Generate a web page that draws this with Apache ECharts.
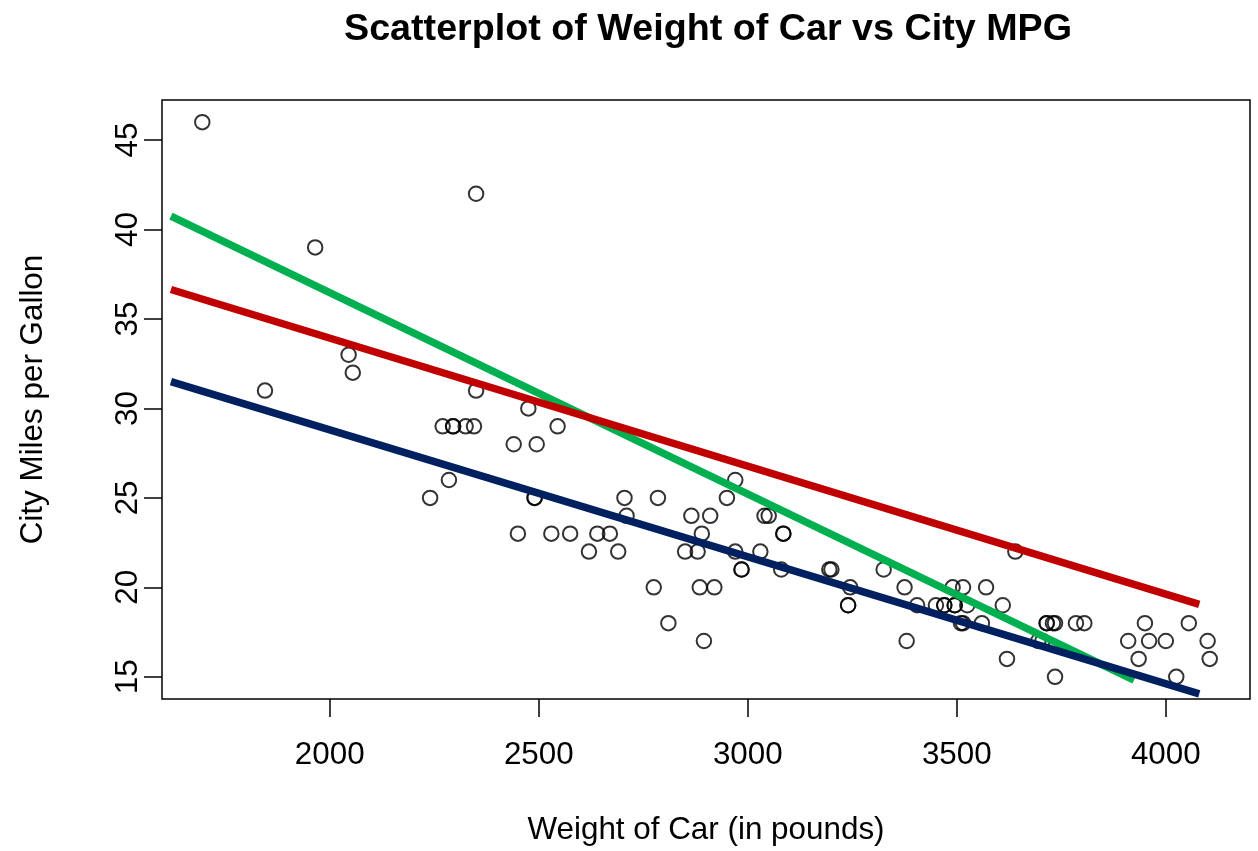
<!DOCTYPE html>
<html><head><meta charset="utf-8">
<script src="https://cdn.jsdelivr.net/npm/echarts@6/dist/echarts.min.js"></script>
<style>html,body{margin:0;padding:0;background:#fff}#c{width:1258px;height:851px}</style>
</head><body><div id="c"></div>
<script>
// Car weight (pounds) and city MPG
const weight = [2705,3560,3375,3405,3640,2880,3470,4105,3495,3620,3935,2490,2785,3240,3195,3715,4025,3910,3380,3515,
  3085,3570,2270,2670,2970,3705,3080,3805,2295,3490,1845,2530,2690,2850,2710,3735,3325,3950,1695,2475,
  2865,2350,3040,2345,2620,2285,2885,4000,3510,3515,3695,4055,2325,2440,2970,3735,2895,2920,3525,2450,
  3610,2295,3730,2545,3050,4100,3200,2910,2890,3715,3470,2640,2350,2575,3240,3450,3495,2775,2495,2045,
  2490,3085,1965,2055,2950,3030,3785,2240,3960,2985,2810,2985,3245];
const mpgCity = [25,18,20,19,22,22,19,16,19,16,16,25,25,19,21,18,15,17,17,20,
  23,20,29,23,22,17,21,18,29,20,31,23,22,22,24,15,21,18,46,30,
  24,42,24,29,22,26,20,17,18,18,17,18,29,28,26,18,17,20,19,23,
  19,29,18,29,24,17,21,24,23,18,19,23,31,23,19,19,19,20,28,33,
  25,23,39,32,25,22,18,25,17,21,18,21,20];
const xTicks = [2000, 2500, 3000, 3500, 4000];
const yTicks = [15, 20, 25, 30, 35, 40, 45];
// fitted lines (endpoints)
const lineX = [1620, 4080];
const redLine = [36.65, 19.05];
const navyLine = [31.5, 14.05];
const greenX = [1620, 3924];
const greenLine = [40.75, 14.82];

const FONT = "'Liberation Sans', Arial, Helvetica, sans-serif";
const pts = weight.map((w, i) => [w, mpgCity[i]]);
const pair = (xs, ys) => xs.map((x, i) => [x, ys[i]]);

const chart = echarts.init(document.getElementById('c'), null, {renderer: 'canvas'});
chart.setOption({
  animation: false,
  backgroundColor: '#ffffff',
  textStyle: {fontFamily: FONT},
  title: {
    text: 'Scatterplot of Weight of Car vs City MPG',
    left: 703, top: 6, textAlign: 'center',
    textStyle: {fontFamily: FONT, fontSize: 37.7, fontWeight: 'bold', color: '#000'}
  },
  grid: {left: 162, right: 8, top: 100, bottom: 151, show: true, borderColor: '#000', borderWidth: 1.5, backgroundColor: 'transparent'},
  xAxis: {
    type: 'value', min: 1598.6, max: 4201.4,
    name: 'Weight of Car (in pounds)', nameLocation: 'middle', nameGap: 116,
    nameTextStyle: {fontFamily: FONT, fontSize: 31.4, color: '#000'},
    axisLine: {show: false},
    splitLine: {show: false},
    axisTick: {show: true, inside: false, length: 18, customValues: xTicks, lineStyle: {color: '#000', width: 1.5}},
    axisLabel: {customValues: xTicks, margin: 41, fontSize: 31.4, color: '#000', fontFamily: FONT,
      formatter: v => String(v)}
  },
  yAxis: {
    type: 'value', min: 13.76, max: 47.24,
    name: 'City Miles per Gallon', nameLocation: 'middle', nameGap: 113, nameRotate: 90,
    nameTextStyle: {fontFamily: FONT, fontSize: 31.4, color: '#000'},
    axisLine: {show: false},
    splitLine: {show: false},
    axisTick: {show: true, inside: false, length: 18, customValues: yTicks, lineStyle: {color: '#000', width: 1.5}},
    axisLabel: {customValues: yTicks, margin: 18, rotate: 90, fontSize: 31.4, color: '#000', fontFamily: FONT,
      formatter: v => String(v)}
  },
  series: [
    {type: 'scatter', data: pts, symbol: 'circle', symbolSize: 14.5, silent: true,
     itemStyle: {color: 'rgba(0,0,0,0)', borderColor: '#000', borderWidth: 2}},
    {type: 'line', data: pair(greenX, greenLine), symbol: 'none', silent: true,
     lineStyle: {color: '#00B050', width: 7.5, cap: 'butt'}},
    {type: 'line', data: pair(lineX, redLine), symbol: 'none', silent: true,
     lineStyle: {color: '#C00000', width: 7.5, cap: 'butt'}},
    {type: 'line', data: pair(lineX, navyLine), symbol: 'none', silent: true,
     lineStyle: {color: '#002060', width: 7.5, cap: 'butt'}}
  ]
});
</script>
</body></html>
